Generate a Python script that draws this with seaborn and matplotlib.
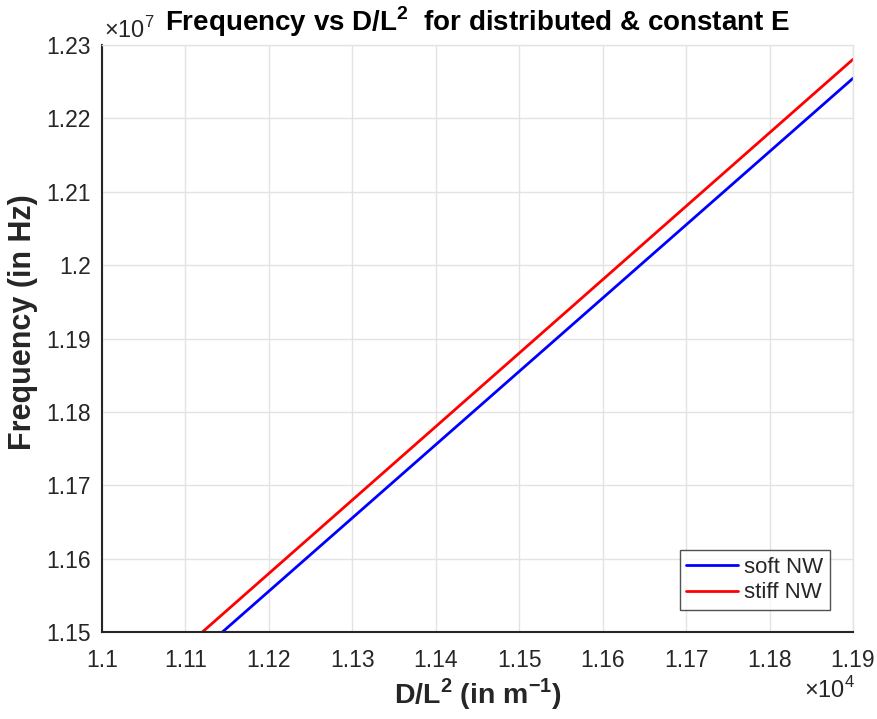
import matplotlib
matplotlib.use("Agg")
import matplotlib.pyplot as plt
import seaborn as sns
import pandas as pd
from matplotlib.ticker import FuncFormatter

# Data
x_soft = [11144.3, 11900.0]
y_soft = [1.15000e7, 1.22546e7]
x_stiff = [11120.3, 11900.0]
y_stiff = [1.15000e7, 1.22805e7]
series_names = ["soft NW", "stiff NW"]
x_ticks = [1.10, 1.11, 1.12, 1.13, 1.14, 1.15, 1.16, 1.17, 1.18, 1.19]
y_ticks = [1.15, 1.16, 1.17, 1.18, 1.19, 1.20, 1.21, 1.22, 1.23]

df = pd.DataFrame({
    "x": x_soft + x_stiff,
    "y": y_soft + y_stiff,
    "series": [series_names[0]] * len(x_soft) + [series_names[1]] * len(x_stiff),
})

sns.set_style("white")
plt.rcParams["font.family"] = ["Liberation Sans", "DejaVu Sans"]
plt.rcParams["mathtext.fontset"] = "custom"
plt.rcParams["mathtext.rm"] = "Liberation Sans"
plt.rcParams["mathtext.bf"] = "Liberation Sans:bold"

fig = plt.figure(figsize=(8.78, 7.19), dpi=100)
ax = fig.add_axes([102 / 878, 1 - 632 / 719, (853 - 102) / 878, (632 - 45) / 719])

sns.lineplot(data=df, x="x", y="y", hue="series", palette=["#0000ff", "#ff0000"],
             linewidth=2, ax=ax, legend=True)

ax.set_xlim(1.10e4, 1.19e4)
ax.set_ylim(1.15e7, 1.23e7)
ax.set_xticks([v * 1e4 for v in x_ticks])
ax.set_yticks([v * 1e7 for v in y_ticks])
ax.xaxis.set_major_formatter(FuncFormatter(lambda v, p: f"{v / 1e4:g}"))
ax.yaxis.set_major_formatter(FuncFormatter(lambda v, p: f"{v / 1e7:g}"))

ax.grid(True, color="#e3e3e3", linewidth=1)
ax.set_axisbelow(True)
for s in ["top", "right"]:
    ax.spines[s].set_color("#e3e3e3")
    ax.spines[s].set_linewidth(1)
for s in ["left", "bottom"]:
    ax.spines[s].set_color("#262626")
    ax.spines[s].set_linewidth(1.5)
ax.tick_params(axis="both", direction="in", length=6, width=1.5, colors="#262626",
               labelsize=16.5, labelcolor="#262626")
ax.tick_params(axis="x", pad=12)
ax.tick_params(axis="y", pad=8)

ax.set_xlabel(r"$\mathbf{D/L^2}$ (in m$^{\mathbf{-1}}$)", fontsize=20.5,
              fontweight="bold", color="#262626", labelpad=3)
ax.set_ylabel("Frequency (in Hz)", fontsize=22, fontweight="bold", color="#262626")
ax.yaxis.set_label_coords(-(102 - 38) / 751, (632 - 322) / 587)
ax.set_title(r"Frequency vs D/L$^{\mathbf{2}}$  for distributed & constant E",
             fontsize=20, fontweight="bold", color="black", pad=10)

fig.text(104 / 878, 1 - 30 / 719, r"$\times$10$^7$", fontsize=17, color="#262626",
         ha="left", va="center")
fig.text(855 / 878, 1 - 690 / 719, r"$\times$10$^4$", fontsize=17, color="#262626",
         ha="right", va="center")

leg = ax.legend(loc="lower right", bbox_to_anchor=(830 / 878, 1 - 610 / 719),
                bbox_transform=fig.transFigure, borderaxespad=0, fontsize=16,
                frameon=True, fancybox=False, edgecolor="#262626", handlelength=2.3,
                borderpad=0.3, labelspacing=0.2, handletextpad=0.3, title=None)
leg.get_frame().set_linewidth(1)

fig.savefig("out.png", dpi=100)
